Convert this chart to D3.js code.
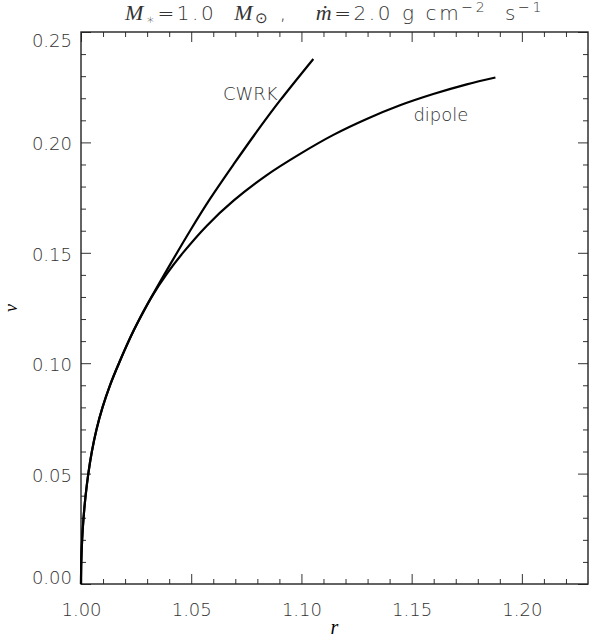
<!DOCTYPE html>
<html>
<head>
<meta charset="utf-8">
<script src="https://cdn.jsdelivr.net/npm/d3@7"></script>
<style>
  html, body { margin: 0; padding: 0; background: #fff; }
  svg { display: block; }
  .axis text { font-family: "DejaVu Sans", sans-serif; font-size: 18px; font-weight: 200; fill: #333; }
  .axis line { stroke: #333; stroke-width: 1; }
  .axis path { display: none; }
  .lbl { font-family: "DejaVu Sans", sans-serif; font-size: 18px; font-weight: 200; fill: #333; }
  .it { font-family: "Liberation Serif", serif; font-style: italic; }
</style>
</head>
<body>
<div class="chart"></div>
<script>
// series: r (radius) and v (velocity)
const rCWRK = [1.0, 1.00013, 1.00051, 1.00116, 1.00209, 1.00332, 1.00493, 1.00703, 1.00976, 1.01315, 1.01722, 1.0240, 1.0319, 1.0412, 1.0495, 1.0586, 1.0692, 1.0813, 1.0903, 1.1054];
const vCWRK = [0.0, 0.010, 0.020, 0.030, 0.040, 0.050, 0.060, 0.070, 0.080, 0.090, 0.100, 0.115, 0.1298, 0.1460, 0.1600, 0.1745, 0.1900, 0.2070, 0.2190, 0.2378];

const rDipole = [1.0, 1.00013, 1.00051, 1.00116, 1.00209, 1.00332, 1.00493, 1.00703, 1.00976, 1.01315, 1.01722, 1.0240, 1.0319, 1.0390, 1.0465, 1.0571, 1.0692, 1.0843, 1.0994, 1.1145, 1.1296, 1.1447, 1.1598, 1.1750, 1.1880];
const vDipole = [0.0, 0.010, 0.020, 0.030, 0.040, 0.050, 0.060, 0.070, 0.080, 0.090, 0.100, 0.115, 0.1298, 0.1406, 0.1503, 0.1623, 0.1736, 0.1852, 0.1948, 0.2034, 0.2106, 0.2168, 0.2219, 0.2263, 0.2294];

const xTicks = [1.00, 1.05, 1.10, 1.15, 1.20];
const xLabels = ['1.00', '1.05', '1.10', '1.15', '1.20'];
const yTicks = [0.00, 0.05, 0.10, 0.15, 0.20, 0.25];
const yLabels = ['0.00', '0.05', '0.10', '0.15', '0.20', '0.25'];
const seriesNames = ['CWRK', 'dipole'];

const W = 590, H = 640;
const margin = { top: 32, right: 2, bottom: 56, left: 81 };
const width = W - margin.left - margin.right;
const height = H - margin.top - margin.bottom;

const x = d3.scaleLinear().domain([1.0, 1.23]).range([0, width]);
const y = d3.scaleLinear().domain([0, 0.25]).range([height, 0]);

const svg = d3.select('.chart').append('svg').attr('width', W).attr('height', H);
const g = svg.append('g').attr('transform', 'translate(' + margin.left + ',' + margin.top + ')');

// minor ticks every 0.01
const xMinor = d3.range(101, 123).map(d => d / 100).filter(d => Math.round(d * 100) % 5 !== 0);
const yMinor = d3.range(1, 25).map(d => d / 100).filter(d => Math.round(d * 100) % 5 !== 0);

// bottom
g.append('g').attr('class', 'axis').attr('transform', 'translate(0,' + height + ')')
  .call(d3.axisBottom(x).tickValues(xTicks).tickSize(-10).tickSizeOuter(0).tickPadding(19)
    .tickFormat((d, i) => xLabels[i]));
g.append('g').attr('class', 'axis').attr('transform', 'translate(0,' + height + ')')
  .call(d3.axisBottom(x).tickValues(xMinor).tickSize(-5).tickSizeOuter(0).tickFormat(''));
// top
g.append('g').attr('class', 'axis')
  .call(d3.axisTop(x).tickValues(xTicks).tickSize(-10).tickSizeOuter(0).tickFormat(''));
g.append('g').attr('class', 'axis')
  .call(d3.axisTop(x).tickValues(xMinor).tickSize(-5).tickSizeOuter(0).tickFormat(''));
// left
const yAx = g.append('g').attr('class', 'axis')
  .call(d3.axisLeft(y).tickValues(yTicks).tickSize(-10).tickSizeOuter(0).tickPadding(9)
    .tickFormat((d, i) => yLabels[i]));
yAx.selectAll('text').attr('dy', d => d === 0 ? '-0.05em' : d === 0.25 ? '0.8em' : '0.42em');
g.append('g').attr('class', 'axis')
  .call(d3.axisLeft(y).tickValues(yMinor).tickSize(-5).tickSizeOuter(0).tickFormat(''));
// right
g.append('g').attr('class', 'axis').attr('transform', 'translate(' + width + ',0)')
  .call(d3.axisRight(y).tickValues(yTicks).tickSize(-10).tickSizeOuter(0).tickFormat(''));
g.append('g').attr('class', 'axis').attr('transform', 'translate(' + width + ',0)')
  .call(d3.axisRight(y).tickValues(yMinor).tickSize(-5).tickSizeOuter(0).tickFormat(''));

// frame
g.append('rect').attr('width', width).attr('height', height)
  .attr('fill', 'none').attr('stroke', '#222').attr('stroke-width', 1.4);

// curves
const line = d3.line()
  .x(d => x(d[0]))
  .y(d => y(d[1]))
  .curve(d3.curveCatmullRom.alpha(0.5));

const cwrk = rCWRK.map((r, i) => [r, vCWRK[i]]);
const dipole = rDipole.map((r, i) => [r, vDipole[i]]);

g.append('path').datum(dipole).attr('d', line)
  .attr('fill', 'none').attr('stroke', '#000').attr('stroke-width', 2.2);
g.append('path').datum(cwrk).attr('d', line)
  .attr('fill', 'none').attr('stroke', '#000').attr('stroke-width', 2.2);

// curve labels
g.append('text').attr('class', 'lbl').attr('x', x(1.0644)).attr('y', y(0.2194)).text(seriesNames[0]);
g.append('text').attr('class', 'lbl').attr('x', x(1.1508)).attr('y', y(0.2097)).text(seriesNames[1]);

// axis titles
svg.append('text').attr('class', 'it').attr('text-anchor', 'middle')
  .attr('x', margin.left + width / 2).attr('y', 634).style('font-size', '20px').text('r');
svg.append('text').attr('class', 'it').attr('text-anchor', 'middle')
  .attr('transform', 'translate(17,' + (margin.top + height / 2) + ') rotate(-90)')
  .style('font-size', '18px').text('v');

// title
const title = svg.append('text').attr('class', 'lbl').attr('text-anchor', 'middle')
  .attr('x', margin.left + width / 2).attr('y', 20)
  .style('white-space', 'pre').style('font-size', '20px').style('letter-spacing', '2.6px');
title.append('tspan').attr('class', 'it').style('font-size', '22px').text('M');
title.append('tspan').style('font-size', '14px').attr('dy', 4).text('∗');
title.append('tspan').attr('dy', -4).text('=1.0  ');
title.append('tspan').attr('class', 'it').style('font-size', '22px').text('M');
title.append('tspan').style('font-size', '15px').attr('dy', 3).text('⊙');
title.append('tspan').attr('dy', -3).text(' ,   ');
title.append('tspan').attr('class', 'it').style('font-size', '22px').text('ṁ');
title.append('tspan').text('=2.0 g cm');
title.append('tspan').style('font-size', '14px').attr('dy', -8).text('−2');
title.append('tspan').attr('dy', 8).text('  s');
title.append('tspan').style('font-size', '14px').attr('dy', -8).text('−1');
</script>
</body>
</html>
